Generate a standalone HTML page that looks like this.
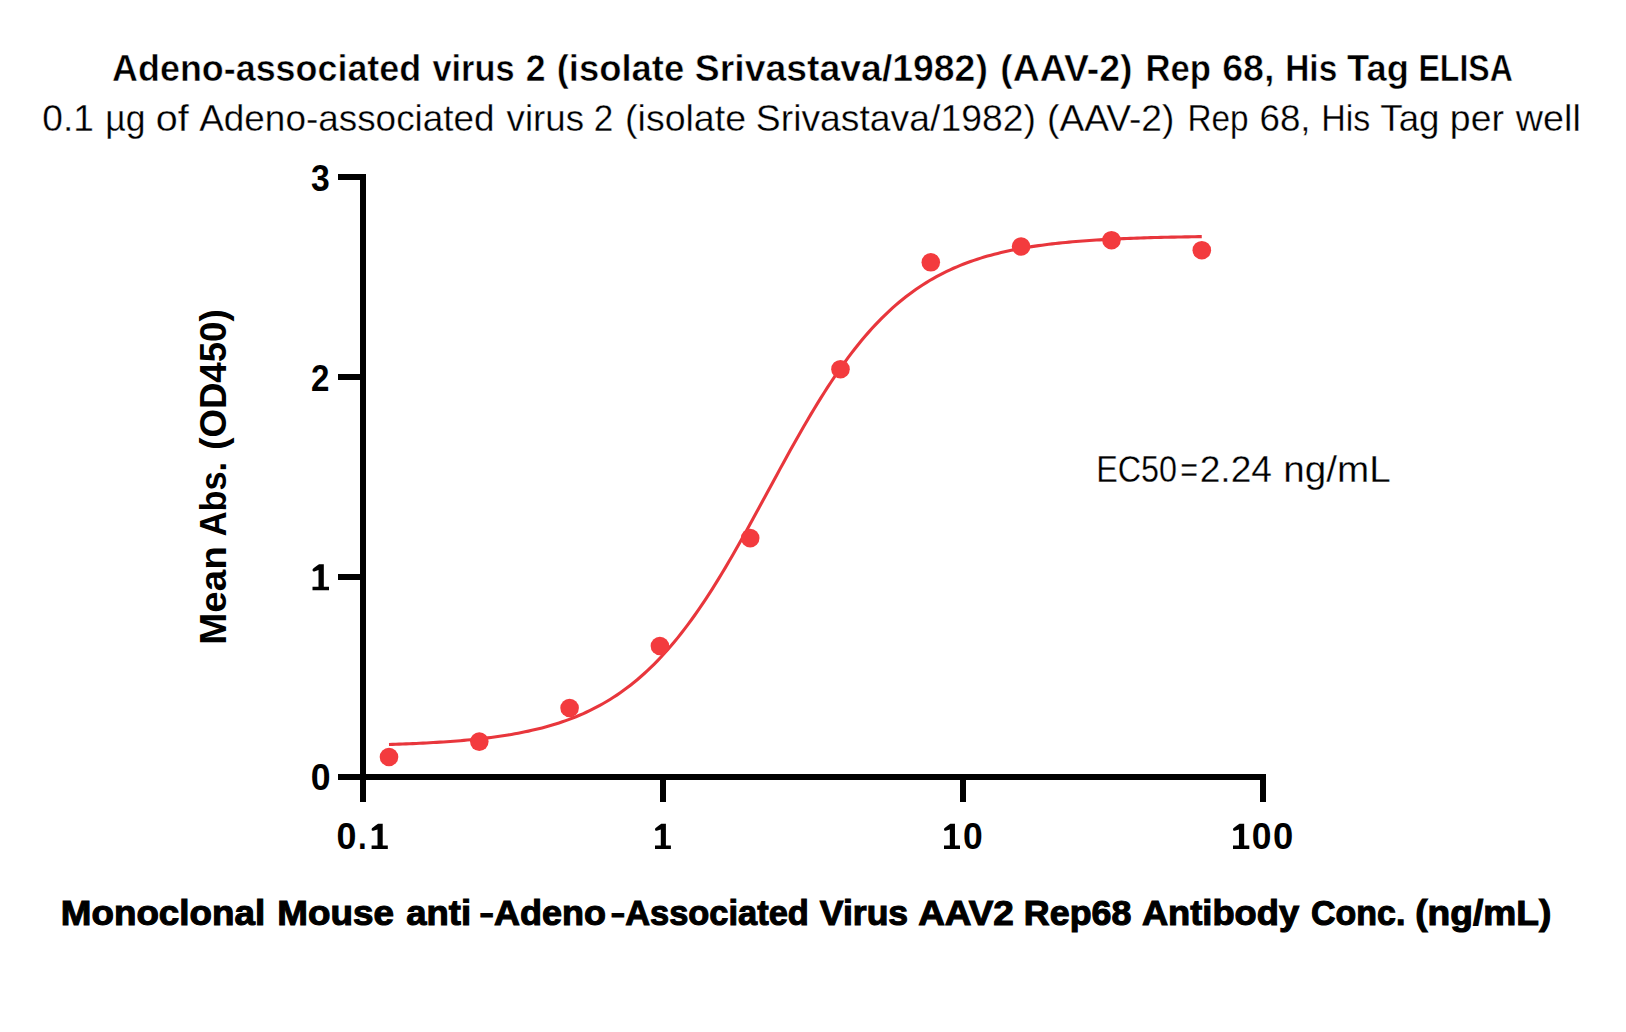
<!DOCTYPE html>
<html><head><meta charset="utf-8"><style>
html,body{margin:0;padding:0;background:#fff;}
svg{display:block;}
text{font-family:"Liberation Sans",sans-serif;fill:#000;}
</style></head><body>
<svg width="1626" height="1032" viewBox="0 0 1626 1032">
<rect width="1626" height="1032" fill="#fff"/>
<g font-size="36" font-weight="bold" stroke="#fff" stroke-width="0.5"><text x="112.10" y="80.6" textLength="309.07" lengthAdjust="spacingAndGlyphs">Adeno-associated</text><text x="432.40" y="80.6" textLength="82.10" lengthAdjust="spacingAndGlyphs">virus</text><text x="525.71" y="80.6" textLength="19.81" lengthAdjust="spacingAndGlyphs">2</text><text x="556.69" y="80.6" textLength="127.47" lengthAdjust="spacingAndGlyphs">(isolate</text><text x="694.86" y="80.6" textLength="293.00" lengthAdjust="spacingAndGlyphs">Srivastava/1982)</text><text x="1000.26" y="80.6" textLength="132.34" lengthAdjust="spacingAndGlyphs">(AAV-2)</text><text x="1145.47" y="80.6" textLength="65.50" lengthAdjust="spacingAndGlyphs">Rep</text><text x="1222.26" y="80.6" textLength="52.18" lengthAdjust="spacingAndGlyphs">68,</text><text x="1285.24" y="80.6" textLength="52.01" lengthAdjust="spacingAndGlyphs">His</text><text x="1347.10" y="80.6" textLength="61.85" lengthAdjust="spacingAndGlyphs">Tag</text><text x="1418.52" y="80.6" textLength="94.28" lengthAdjust="spacingAndGlyphs">ELISA</text></g>
<g font-size="36.6" stroke="#fff" stroke-width="0.3"><text x="42.29" y="131.2" textLength="51.60" lengthAdjust="spacingAndGlyphs">0.1</text><text x="105.26" y="131.2" textLength="40.22" lengthAdjust="spacingAndGlyphs">µg</text><text x="155.82" y="131.2" textLength="32.96" lengthAdjust="spacingAndGlyphs">of</text><text x="199.20" y="131.2" textLength="295.44" lengthAdjust="spacingAndGlyphs">Adeno-associated</text><text x="506.60" y="131.2" textLength="77.44" lengthAdjust="spacingAndGlyphs">virus</text><text x="593.68" y="131.2" textLength="19.51" lengthAdjust="spacingAndGlyphs">2</text><text x="625.05" y="131.2" textLength="121.00" lengthAdjust="spacingAndGlyphs">(isolate</text><text x="755.86" y="131.2" textLength="279.95" lengthAdjust="spacingAndGlyphs">Srivastava/1982)</text><text x="1047.07" y="131.2" textLength="127.30" lengthAdjust="spacingAndGlyphs">(AAV-2)</text><text x="1187.38" y="131.2" textLength="61.13" lengthAdjust="spacingAndGlyphs">Rep</text><text x="1259.50" y="131.2" textLength="51.08" lengthAdjust="spacingAndGlyphs">68,</text><text x="1321.14" y="131.2" textLength="49.14" lengthAdjust="spacingAndGlyphs">His</text><text x="1380.30" y="131.2" textLength="59.19" lengthAdjust="spacingAndGlyphs">Tag</text><text x="1449.86" y="131.2" textLength="54.02" lengthAdjust="spacingAndGlyphs">per</text><text x="1515.80" y="131.2" textLength="65.05" lengthAdjust="spacingAndGlyphs">well</text></g>
<g fill="#000">
<rect x="360" y="174" width="6" height="628"/>
<rect x="338" y="774" width="928" height="6"/>
<rect x="338" y="174" width="22" height="6"/>
<rect x="338" y="374" width="22" height="6"/>
<rect x="338" y="574" width="22" height="6"/>
<rect x="660" y="780" width="6" height="22"/>
<rect x="960" y="780" width="6" height="22"/>
<rect x="1260" y="780" width="6" height="22"/>
</g>
<g font-size="37" font-weight="bold" fill="#000"><text x="310.99" y="190.90" textLength="18.74" lengthAdjust="spacingAndGlyphs">3</text><text x="311.11" y="390.80" textLength="18.41" lengthAdjust="spacingAndGlyphs">2</text><path transform="translate(312.50,564.30) scale(1.0377,1.0277)" d="M6.3 0 L10.9 0 L10.9 21.8 L15.9 21.8 L15.9 25.3 L0 25.3 L0 21.8 L5.8 21.8 L5.8 5.6 L1.8 6.9 Q0 7.4 0 5.6 Q0 4.3 1.3 3.6 Q3.9 1.5 6.3 0 Z"/><text x="310.64" y="789.90" textLength="19.82" lengthAdjust="spacingAndGlyphs">0</text><text x="336.43" y="849.10" textLength="19.93" lengthAdjust="spacingAndGlyphs">0</text><text x="358.11" y="849.10" textLength="8.67" lengthAdjust="spacingAndGlyphs">.</text><path transform="translate(371.60,823.80) scale(1.0189,1.0000)" d="M6.3 0 L10.9 0 L10.9 21.8 L15.9 21.8 L15.9 25.3 L0 25.3 L0 21.8 L5.8 21.8 L5.8 5.6 L1.8 6.9 Q0 7.4 0 5.6 Q0 4.3 1.3 3.6 Q3.9 1.5 6.3 0 Z"/><path transform="translate(655.00,823.80) scale(1.0000,1.0000)" d="M6.3 0 L10.9 0 L10.9 21.8 L15.9 21.8 L15.9 25.3 L0 25.3 L0 21.8 L5.8 21.8 L5.8 5.6 L1.8 6.9 Q0 7.4 0 5.6 Q0 4.3 1.3 3.6 Q3.9 1.5 6.3 0 Z"/><path transform="translate(944.00,823.80) scale(1.0063,1.0000)" d="M6.3 0 L10.9 0 L10.9 21.8 L15.9 21.8 L15.9 25.3 L0 25.3 L0 21.8 L5.8 21.8 L5.8 5.6 L1.8 6.9 Q0 7.4 0 5.6 Q0 4.3 1.3 3.6 Q3.9 1.5 6.3 0 Z"/><text x="963.04" y="849.10" textLength="19.71" lengthAdjust="spacingAndGlyphs">0</text><path transform="translate(1233.00,823.80) scale(1.0252,1.0000)" d="M6.3 0 L10.9 0 L10.9 21.8 L15.9 21.8 L15.9 25.3 L0 25.3 L0 21.8 L5.8 21.8 L5.8 5.6 L1.8 6.9 Q0 7.4 0 5.6 Q0 4.3 1.3 3.6 Q3.9 1.5 6.3 0 Z"/><text x="1251.74" y="849.10" textLength="19.71" lengthAdjust="spacingAndGlyphs">0</text><text x="1273.12" y="849.10" textLength="20.25" lengthAdjust="spacingAndGlyphs">0</text></g>
<g transform="translate(226.2,1032) rotate(-90)" font-size="37" font-weight="bold"><text x="387.22" y="0" textLength="98.53" lengthAdjust="spacingAndGlyphs">Mean</text><text x="495.67" y="0" textLength="74.46" lengthAdjust="spacingAndGlyphs">Abs.</text><text x="582.21" y="0" textLength="140.47" lengthAdjust="spacingAndGlyphs">(OD450)</text></g>
<g font-size="35.4" font-weight="bold" stroke="#000" stroke-width="1.1"><text x="60.86" y="925.0" textLength="204.27" lengthAdjust="spacingAndGlyphs">Monoclonal</text><text x="277.26" y="925.0" textLength="116.74" lengthAdjust="spacingAndGlyphs">Mouse</text><text x="406.20" y="925.0" textLength="64.85" lengthAdjust="spacingAndGlyphs">anti</text><text x="480.00" y="925.0" textLength="13.29" lengthAdjust="spacingAndGlyphs">–</text><text x="494.00" y="925.0" textLength="112.01" lengthAdjust="spacingAndGlyphs">Adeno</text><text x="611.30" y="925.0" textLength="13.29" lengthAdjust="spacingAndGlyphs">–</text><text x="625.20" y="925.0" textLength="183.61" lengthAdjust="spacingAndGlyphs">Associated</text><text x="819.80" y="925.0" textLength="88.37" lengthAdjust="spacingAndGlyphs">Virus</text><text x="918.20" y="925.0" textLength="95.71" lengthAdjust="spacingAndGlyphs">AAV2</text><text x="1023.89" y="925.0" textLength="107.45" lengthAdjust="spacingAndGlyphs">Rep68</text><text x="1141.90" y="925.0" textLength="157.23" lengthAdjust="spacingAndGlyphs">Antibody</text><text x="1311.10" y="925.0" textLength="94.26" lengthAdjust="spacingAndGlyphs">Conc.</text><text x="1415.25" y="925.0" textLength="136.12" lengthAdjust="spacingAndGlyphs">(ng/mL)</text></g>
<g font-size="36.6" stroke="#fff" stroke-width="0.3"><text x="1096.13" y="482.2" textLength="80.91" lengthAdjust="spacingAndGlyphs">EC50</text><text x="1180.17" y="482.2" textLength="17.77" lengthAdjust="spacingAndGlyphs">=</text><text x="1199.67" y="482.2" textLength="72.35" lengthAdjust="spacingAndGlyphs">2.24</text><text x="1283.29" y="482.2" textLength="107.42" lengthAdjust="spacingAndGlyphs">ng/mL</text></g>
<polyline points="388.98,744.44 392.38,744.34 395.78,744.23 399.19,744.11 402.59,743.99 405.99,743.86 409.39,743.72 412.79,743.58 416.19,743.43 419.59,743.28 422.99,743.11 426.39,742.94 429.79,742.76 433.19,742.57 436.59,742.37 439.99,742.16 443.40,741.94 446.80,741.71 450.20,741.47 453.60,741.22 457.00,740.95 460.40,740.67 463.80,740.38 467.20,740.07 470.60,739.75 474.00,739.41 477.40,739.06 480.80,738.69 484.20,738.29 487.60,737.89 491.01,737.46 494.41,737.01 497.81,736.53 501.21,736.04 504.61,735.52 508.01,734.98 511.41,734.41 514.81,733.81 518.21,733.18 521.61,732.53 525.01,731.84 528.41,731.12 531.81,730.36 535.22,729.57 538.62,728.75 542.02,727.88 545.42,726.98 548.82,726.03 552.22,725.04 555.62,724.00 559.02,722.91 562.42,721.78 565.82,720.59 569.22,719.35 572.62,718.05 576.02,716.70 579.43,715.29 582.83,713.81 586.23,712.27 589.63,710.66 593.03,708.98 596.43,707.23 599.83,705.41 603.23,703.50 606.63,701.52 610.03,699.46 613.43,697.31 616.83,695.08 620.23,692.75 623.64,690.34 627.04,687.83 630.44,685.22 633.84,682.51 637.24,679.70 640.64,676.79 644.04,673.77 647.44,670.64 650.84,667.41 654.24,664.06 657.64,660.59 661.04,657.02 664.44,653.32 667.85,649.51 671.25,645.58 674.65,641.53 678.05,637.37 681.45,633.08 684.85,628.67 688.25,624.15 691.65,619.51 695.05,614.75 698.45,609.88 701.85,604.89 705.25,599.80 708.65,594.59 712.05,589.29 715.46,583.88 718.86,578.37 722.26,572.77 725.66,567.08 729.06,561.31 732.46,555.45 735.86,549.53 739.26,543.54 742.66,537.48 746.06,531.38 749.46,525.22 752.86,519.02 756.26,512.80 759.67,506.54 763.07,500.27 766.47,493.98 769.87,487.69 773.27,481.41 776.67,475.14 780.07,468.88 783.47,462.66 786.87,456.47 790.27,450.31 793.67,444.21 797.07,438.16 800.47,432.18 803.88,426.26 807.28,420.41 810.68,414.65 814.08,408.96 817.48,403.37 820.88,397.87 824.28,392.47 827.68,387.17 831.08,381.98 834.48,376.89 837.88,371.91 841.28,367.05 844.68,362.30 848.09,357.67 851.49,353.16 854.89,348.76 858.29,344.49 861.69,340.33 865.09,336.29 868.49,332.37 871.89,328.57 875.29,324.89 878.69,321.32 882.09,317.87 885.49,314.53 888.89,311.30 892.30,308.18 895.70,305.17 899.10,302.27 902.50,299.47 905.90,296.77 909.30,294.17 912.70,291.67 916.10,289.26 919.50,286.94 922.90,284.72 926.30,282.58 929.70,280.52 933.10,278.55 936.50,276.65 939.91,274.83 943.31,273.09 946.71,271.42 950.11,269.82 953.51,268.28 956.91,266.81 960.31,265.40 963.71,264.05 967.11,262.76 970.51,261.52 973.91,260.34 977.31,259.21 980.71,258.13 984.12,257.10 987.52,256.11 990.92,255.16 994.32,254.26 997.72,253.40 1001.12,252.57 1004.52,251.79 1007.92,251.04 1011.32,250.32 1014.72,249.64 1018.12,248.98 1021.52,248.36 1024.92,247.76 1028.33,247.20 1031.73,246.65 1035.13,246.14 1038.53,245.64 1041.93,245.17 1045.33,244.72 1048.73,244.30 1052.13,243.89 1055.53,243.50 1058.93,243.13 1062.33,242.78 1065.73,242.44 1069.13,242.12 1072.54,241.81 1075.94,241.52 1079.34,241.24 1082.74,240.98 1086.14,240.72 1089.54,240.48 1092.94,240.26 1096.34,240.04 1099.74,239.83 1103.14,239.63 1106.54,239.44 1109.94,239.26 1113.34,239.09 1116.75,238.93 1120.15,238.77 1123.55,238.62 1126.95,238.48 1130.35,238.35 1133.75,238.22 1137.15,238.10 1140.55,237.98 1143.95,237.87 1147.35,237.77 1150.75,237.67 1154.15,237.57 1157.55,237.48 1160.95,237.39 1164.36,237.31 1167.76,237.23 1171.16,237.16 1174.56,237.09 1177.96,237.02 1181.36,236.95 1184.76,236.89 1188.16,236.83 1191.56,236.78 1194.96,236.72 1198.36,236.67 1201.76,236.63" fill="none" stroke="#E8363C" stroke-width="3.1"/>
<g fill="#F33B3E"><circle cx="389.0" cy="757.0" r="9.3"/><circle cx="479.3" cy="741.6" r="9.3"/><circle cx="569.6" cy="708.0" r="9.3"/><circle cx="659.9" cy="646.0" r="9.3"/><circle cx="750.2" cy="538.1" r="9.3"/><circle cx="840.5" cy="369.2" r="9.3"/><circle cx="930.8" cy="262.3" r="9.3"/><circle cx="1021.1" cy="246.5" r="9.3"/><circle cx="1111.5" cy="240.2" r="9.3"/><circle cx="1201.8" cy="250.2" r="9.3"/></g>
</svg>
</body></html>
